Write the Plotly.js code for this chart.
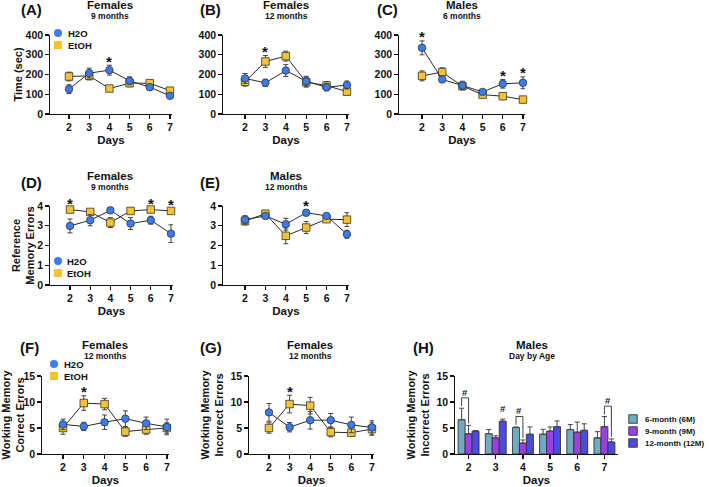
<!DOCTYPE html>
<html><head><meta charset="utf-8">
<script src="https://cdn.plot.ly/plotly-3.0.1.min.js"></script>
<style>html,body{margin:0;padding:0;background:#fff}#chart{width:709px;height:487px}</style>
</head><body><div id="chart"></div>
<script>
// ---------- DATA ----------
const days = [2, 3, 4, 5, 6, 7];
// (A) Females 9 months, Time (sec)
const h2oA = [126, 207, 222, 168, 136, 92];
const h2oAerr = [22, 25, 25, 20, 15, 12];
const etohA = [190, 193, 129, 156, 156, 118];
const etohAerr = [22, 20, 12, 18, 15, 10];
// (B) Females 12 months
const h2oB = [180, 158, 220, 166, 135, 147];
const h2oBerr = [25, 18, 30, 25, 18, 20];
const etohB = [163, 266, 293, 161, 144, 113];
const etohBerr = [22, 30, 25, 25, 20, 15];
// (C) Males 6 months
const h2oC = [335, 175, 144, 112, 153, 158];
const h2oCerr = [35, 15, 22, 12, 22, 30];
const etohC = [193, 212, 141, 98, 90, 73];
const etohCerr = [25, 22, 15, 10, 12, 8];
// (D) Females 9 months, Reference Memory Errors
const h2oD = [2.99, 3.28, 3.78, 3.11, 3.28, 2.6];
const h2oDerr = [0.35, 0.28, 0.1, 0.3, 0.2, 0.45];
const etohD = [3.82, 3.7, 3.16, 3.75, 3.82, 3.75];
const etohDerr = [0.1, 0.1, 0.25, 0.1, 0.1, 0.1];
// (E) Males 12 months
const h2oE = [3.31, 3.5, 3.08, 3.66, 3.5, 2.57];
const h2oEerr = [0.2, 0.1, 0.3, 0.15, 0.1, 0.2];
const etohE = [3.24, 3.61, 2.49, 2.91, 3.33, 3.31];
const etohEerr = [0.2, 0.15, 0.4, 0.3, 0.15, 0.35];
// (F) Females 12 months, Working Memory Correct Errors
const h2oF = [5.7, 5.3, 6.1, 6.8, 5.9, 5.2];
const h2oFerr = [1.0, 0.8, 1.4, 1.5, 1.2, 1.5];
const etohF = [5.0, 9.8, 9.6, 4.3, 4.7, 5.0];
const etohFerr = [1.2, 1.4, 1.1, 0.9, 0.9, 1.0];
// (G) Females 12 months, Working Memory Incorrect Errors
const h2oG = [8.0, 5.15, 6.5, 6.5, 5.6, 5.1];
const h2oGerr = [1.7, 0.9, 1.7, 1.3, 1.5, 1.3];
const etohG = [5.0, 9.6, 9.3, 4.2, 4.1, 4.8];
const etohGerr = [1.0, 1.7, 1.6, 0.9, 0.6, 1.2];
// (H) Males, Day by Age
const ageNames = ['6-month (6M)', '9-month (9M)', '12-month (12M)'];
const m6 = [6.6, 3.9, 5.1, 3.8, 4.7, 3.1];
const m6err = [2.2, 0.8, 0.1, 0.95, 0.95, 1.2];
const m9 = [3.9, 3.1, 2.1, 4.4, 4.2, 5.25];
const m9err = [1.6, 0.4, 0.6, 0.8, 1.95, 1.95];
const m12 = [4.4, 6.3, 3.8, 5.25, 4.55, 2.3];
const m12err = [0.1, 0.4, 1.4, 1.1, 1.25, 0.6];
// significance markers
const sigA = [4], sigB = [3], sigC = [2, 6, 7], sigD = [2, 6, 7], sigE = [5], sigF = [3], sigG = [3];
const hashPairs = [[2, 0, 1], [4, 0, 1], [7, 1, 2]]; // day, age index a, age index b
const hashSingle = [[3, 2]];                          // day, age index
// text
const panelLabels = ['(A)', '(B)', '(C)', '(D)', '(E)', '(F)', '(G)', '(H)'];
const titles = ['Females', 'Females', 'Males', 'Females', 'Males', 'Females', 'Females', 'Males'];
const subtitles = ['9 months', '12 months', '6 months', '9 months', '12 months', '12 months', '12 months', 'Day by Age'];
const yTitles = ['Time (sec)', '', '', 'Reference<br>Memory Errors', '', 'Working Memory<br>Correct Errors',
  'Working Memory<br>Incorrect Errors', 'Working Memory<br>Incorrect Errors'];
const xTitle = 'Days';
const seriesNames = ['H2O', 'EtOH'];

// ---------- STYLE / LAYOUT ----------
const W = 709, H = 487;
const FONT = 'Liberation Sans, Arial, sans-serif';
const BLUE = '#3b7cf0', YEL = '#f4c430';
const AGECOL = ['#71aac3', '#9c3fe6', '#4c4bdf'];
const BARGAP = 0.23;

const P = [
  {x0: 50, x1: 172, yT: 35, yB: 114, xr: [1.06, 7.1], yr: [0, 400], dt: 100, lx: 31, ly: 10, tx: 110, ty: 5, so: 0},
  {x0: 223, x1: 349, yT: 35, yB: 114, xr: [0.92, 7.1], yr: [0, 400], dt: 100, lx: 210, ly: 10, tx: 286, ty: 5, so: 4},
  {x0: 399, x1: 525, yT: 35, yB: 114, xr: [0.86, 7.1], yr: [0, 400], dt: 100, lx: 387, ly: 10, tx: 462, ty: 5, so: 4},
  {x0: 50, x1: 173, yT: 206, yB: 285, xr: [1.01, 7.1], yr: [0, 4], dt: 1, lx: 31, ly: 182, tx: 110, ty: 176, so: 0},
  {x0: 223, x1: 349, yT: 206, yB: 285, xr: [0.92, 7.1], yr: [0, 4], dt: 1, lx: 210, ly: 182, tx: 286, ty: 176, so: 4},
  {x0: 42, x1: 169, yT: 376, yB: 454, xr: [0.99, 7.1], yr: [0, 15], dt: 5, lx: 30, ly: 347, tx: 105, ty: 345, so: 4},
  {x0: 249, x1: 374, yT: 376, yB: 454, xr: [1.03, 7.1], yr: [0, 15], dt: 5, lx: 211, ly: 347, tx: 310, ty: 345, so: 4},
  {x0: 455, x1: 618, yT: 376, yB: 454, xr: [1.5, 7.5], yr: [0, 15], dt: 5, lx: 424, ly: 347, tx: 532, ty: 345, so: 4}
];

const lineData = [
  [h2oA, h2oAerr, etohA, etohAerr, sigA],
  [h2oB, h2oBerr, etohB, etohBerr, sigB],
  [h2oC, h2oCerr, etohC, etohCerr, sigC],
  [h2oD, h2oDerr, etohD, etohDerr, sigD],
  [h2oE, h2oEerr, etohE, etohEerr, sigE],
  [h2oF, h2oFerr, etohF, etohFerr, sigF],
  [h2oG, h2oGerr, etohG, etohGerr, sigG]
];

const px = x => x / W, py = y => 1 - y / H;
const axn = i => (i === 0 ? '' : String(i + 1));

const traces = [], annotations = [], shapes = [];
const layout = {
  width: W, height: H, margin: {l: 0, r: 0, t: 0, b: 0},
  paper_bgcolor: '#fff', plot_bgcolor: '#fff', showlegend: false,
  barmode: 'group', bargap: BARGAP, bargroupgap: 0,
  font: {family: FONT, color: '#111'}
};

P.forEach((p, i) => {
  const n = axn(i);
  const ticks = [];
  for (let v = p.yr[0]; v <= p.yr[1] + 1e-9; v += p.dt) ticks.push(v);
  const common = {
    showline: true, linecolor: '#111', linewidth: 1.3, ticks: 'outside', ticklen: 3.5, tickwidth: 1.2,
    tickcolor: '#111', showgrid: false, zeroline: false, automargin: false, fixedrange: true,
    tickfont: {family: FONT, size: 10.5, color: '#111', weight: 'bold'}
  };
  layout['xaxis' + n] = Object.assign({}, common, {
    domain: [px(p.x0), px(p.x1)], range: p.xr, anchor: 'y' + n, tickvals: days,
    title: {text: xTitle, font: {family: FONT, size: 11.5, weight: 'bold', color: '#111'}, standoff: 3}
  });
  layout['yaxis' + n] = Object.assign({}, common, {
    domain: [py(p.yB), py(p.yT)], range: p.yr, anchor: 'x' + n, tickvals: ticks,
    title: {text: yTitles[i], font: {family: FONT, size: 11, weight: 'bold', color: '#111'}, standoff: p.so}
  });
  annotations.push({xref: 'paper', yref: 'paper', x: px(p.lx), y: py(p.ly), text: panelLabels[i], showarrow: false,
    xanchor: 'center', yanchor: 'middle', font: {family: FONT, size: 15, weight: 'bold', color: '#111'}});
  annotations.push({xref: 'paper', yref: 'paper', x: px(p.tx), y: py(p.ty), text: titles[i], showarrow: false,
    xanchor: 'center', yanchor: 'middle', font: {family: FONT, size: 11.5, weight: 'bold', color: '#111'}});
  annotations.push({xref: 'paper', yref: 'paper', x: px(p.tx), y: py(p.ty + 11), text: subtitles[i], showarrow: false,
    xanchor: 'center', yanchor: 'middle', font: {family: FONT, size: 8.5, weight: 'bold', color: '#111'}});

  if (i < 7) {
    const [h2o, h2oE_, etoh, etohE_, sig] = lineData[i];
    const mk = (y, e, sym, col, name) => ({
      type: 'scatter', mode: 'lines+markers', x: days, y: y, name: name, xaxis: 'x' + n, yaxis: 'y' + n,
      cliponaxis: false, line: {color: '#2a2a2a', width: 1},
      marker: {symbol: sym, size: 7.5, color: col, line: {color: '#333', width: 0.8}},
      error_y: {type: 'data', array: e, visible: true, color: '#444', thickness: 1, width: 2.5}
    });
    traces.push(mk(etoh, etohE_, 'square', YEL, seriesNames[1]));
    traces.push(mk(h2o, h2oE_, 'circle', BLUE, seriesNames[0]));
    sig.forEach(d => {
      const k = days.indexOf(d);
      const top = Math.max(h2o[k] + h2oE_[k], etoh[k] + etohE_[k]);
      annotations.push({xref: 'x' + n, yref: 'y' + n, x: d, y: top, text: '*', showarrow: false,
        xanchor: 'center', yanchor: 'middle', yshift: 4, font: {family: FONT, size: 15, weight: 'bold', color: '#111'}});
    });
  } else {
    const vals = [m6, m9, m12], errs = [m6err, m9err, m12err];
    vals.forEach((v, s) => {
      traces.push({type: 'bar', x: days, y: v, name: ageNames[s], xaxis: 'x' + n, yaxis: 'y' + n,
        marker: {color: AGECOL[s], line: {color: '#333', width: 0.9}},
        error_y: {type: 'data', symmetric: false, array: errs[s], arrayminus: errs[s].map(() => 0),
          color: '#444', thickness: 1, width: 2.5}});
    });
    const bw = (1 - BARGAP) / 3;
    const xOf = (d, s) => d + (s - 1) * bw;
    const et = (d, s) => vals[s][days.indexOf(d)] + errs[s][days.indexOf(d)];
    hashPairs.forEach(([d, a, b]) => {
      const ea = et(d, a), eb = et(d, b), top = Math.max(ea, eb) + 2.0;
      shapes.push({type: 'path', xref: 'x' + n, yref: 'y' + n,
        path: `M${xOf(d, a)},${ea + 0.4} L${xOf(d, a)},${top} L${xOf(d, b)},${top} L${xOf(d, b)},${eb + 0.4}`,
        line: {color: '#444', width: 1}});
      annotations.push({xref: 'x' + n, yref: 'y' + n, x: (xOf(d, a) + xOf(d, b)) / 2, y: top + 1.1, text: '#',
        showarrow: false, xanchor: 'center', yanchor: 'middle', font: {family: FONT, size: 9.5, weight: 'bold', color: '#111'}});
    });
    hashSingle.forEach(([d, s]) => {
      annotations.push({xref: 'x' + n, yref: 'y' + n, x: xOf(d, s), y: et(d, s) + 2.0, text: '#',
        showarrow: false, xanchor: 'center', yanchor: 'middle', font: {family: FONT, size: 9.5, weight: 'bold', color: '#111'}});
    });
  }
});

// legends: swatches as shapes; labels as text next to them
function swatch(kind, col, sx, cy, sw, outline) {
  const h = sw / 2;
  shapes.push({type: kind, xref: 'paper', yref: 'paper',
    x0: px(sx - h), x1: px(sx + h), y0: py(cy + h), y1: py(cy - h),
    fillcolor: col, line: {color: outline ? '#333' : col, width: outline ? 0.9 : 0}});
}
function legendBlock(items, sx, textX, rowY, size, sw) {
  items.forEach(([kind, col], r) => swatch(kind, col, sx, rowY[r], sw, false));
  const mid = (rowY[0] + rowY[rowY.length - 1]) / 2;
  annotations.push({xref: 'paper', yref: 'paper', x: px(textX), y: py(mid), showarrow: false,
    text: items.map(it => it[2]).join('<br>'), xanchor: 'left', yanchor: 'middle', align: 'left',
    font: {family: FONT, size: size, weight: 'bold', color: '#111'}});
}
const lineLegend = [['circle', BLUE, seriesNames[0]], ['rect', YEL, seriesNames[1]]];
legendBlock(lineLegend, 58, 66, [33, 45], 9.5, 8);
legendBlock(lineLegend, 58, 65, [261, 273], 9.5, 8);
legendBlock(lineLegend, 54, 62, [364, 376], 9.5, 8);
ageNames.forEach((nm, s) => {
  const cy = 419 + 12 * s;
  swatch('rect', AGECOL[s], 633, cy, 8.5, true);
  annotations.push({xref: 'paper', yref: 'paper', x: px(643), y: py(cy), text: nm, showarrow: false,
    xanchor: 'left', yanchor: 'middle', font: {family: FONT, size: 8, weight: 'bold', color: '#111'}});
});

layout.annotations = annotations;
layout.shapes = shapes;
Plotly.newPlot('chart', traces, layout, {displayModeBar: false, staticPlot: true});
</script>
</body></html>
